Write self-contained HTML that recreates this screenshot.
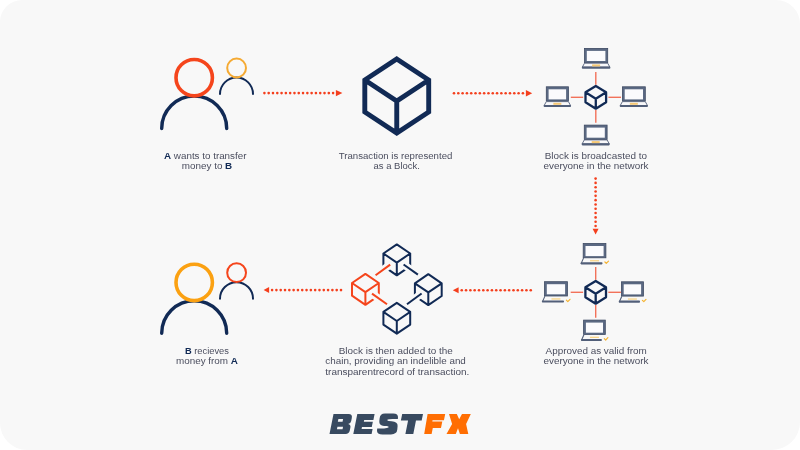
<!DOCTYPE html>
<html><head><meta charset="utf-8">
<style>
html,body{margin:0;padding:0;width:800px;height:450px;overflow:hidden;background:#ffffff;}
svg{display:block;will-change:transform;}
text{font-family:"Liberation Sans",sans-serif;}
</style></head>
<body>
<svg width="800" height="450" viewBox="0 0 800 450">
<path d="M22 0 L776 0 A24 24 0 0 1 800 24 L800 422 A28 28 0 0 1 772 450 L27 450 A27 27 0 0 1 0 423 L0 22 A22 22 0 0 1 22 0 Z" fill="#f8f8f8"/>
<path d="M161.7 128.50 A32.5 32.5 0 0 1 226.7 128.50" fill="none" stroke="#112a55" stroke-width="3.4" stroke-linecap="round"/><circle cx="194.2" cy="77.70" r="18.2" fill="none" stroke="#f5451c" stroke-width="3.6"/><path d="M220 94.00 A16.5 16.5 0 0 1 253 94.00" fill="none" stroke="#112a55" stroke-width="2" stroke-linecap="round"/><circle cx="236.6" cy="68.00" r="9.4" fill="none" stroke="#f5aa33" stroke-width="2"/>
<path d="M161.7 333.20 A32.5 32.5 0 0 1 226.7 333.20" fill="none" stroke="#112a55" stroke-width="3.4" stroke-linecap="round"/><circle cx="194.2" cy="282.40" r="18.2" fill="none" stroke="#fba112" stroke-width="3.6"/><path d="M220 298.70 A16.5 16.5 0 0 1 253 298.70" fill="none" stroke="#112a55" stroke-width="2" stroke-linecap="round"/><circle cx="236.6" cy="272.70" r="9.4" fill="none" stroke="#f5451c" stroke-width="2"/>
<g fill="#f43f1d"><circle cx="264.40" cy="93.10" r="1.3"/><circle cx="268.69" cy="93.10" r="1.3"/><circle cx="272.99" cy="93.10" r="1.3"/><circle cx="277.28" cy="93.10" r="1.3"/><circle cx="281.57" cy="93.10" r="1.3"/><circle cx="285.87" cy="93.10" r="1.3"/><circle cx="290.16" cy="93.10" r="1.3"/><circle cx="294.46" cy="93.10" r="1.3"/><circle cx="298.75" cy="93.10" r="1.3"/><circle cx="303.04" cy="93.10" r="1.3"/><circle cx="307.34" cy="93.10" r="1.3"/><circle cx="311.63" cy="93.10" r="1.3"/><circle cx="315.93" cy="93.10" r="1.3"/><circle cx="320.22" cy="93.10" r="1.3"/><circle cx="324.51" cy="93.10" r="1.3"/><circle cx="328.81" cy="93.10" r="1.3"/><circle cx="333.10" cy="93.10" r="1.3"/></g>
<path d="M335.9 89.9 L342.4 93.1 L335.9 96.3 Z" fill="#f43f1d"/>
<g fill="#f43f1d"><circle cx="454.00" cy="93.20" r="1.3"/><circle cx="458.31" cy="93.20" r="1.3"/><circle cx="462.61" cy="93.20" r="1.3"/><circle cx="466.92" cy="93.20" r="1.3"/><circle cx="471.23" cy="93.20" r="1.3"/><circle cx="475.53" cy="93.20" r="1.3"/><circle cx="479.84" cy="93.20" r="1.3"/><circle cx="484.14" cy="93.20" r="1.3"/><circle cx="488.45" cy="93.20" r="1.3"/><circle cx="492.76" cy="93.20" r="1.3"/><circle cx="497.06" cy="93.20" r="1.3"/><circle cx="501.37" cy="93.20" r="1.3"/><circle cx="505.67" cy="93.20" r="1.3"/><circle cx="509.98" cy="93.20" r="1.3"/><circle cx="514.29" cy="93.20" r="1.3"/><circle cx="518.59" cy="93.20" r="1.3"/><circle cx="522.90" cy="93.20" r="1.3"/></g>
<path d="M525.9 90.0 L532.2 93.2 L525.9 96.4 Z" fill="#f43f1d"/>
<g fill="#f43f1d"><circle cx="595.60" cy="178.60" r="1.3"/><circle cx="595.60" cy="182.91" r="1.3"/><circle cx="595.60" cy="187.22" r="1.3"/><circle cx="595.60" cy="191.53" r="1.3"/><circle cx="595.60" cy="195.84" r="1.3"/><circle cx="595.60" cy="200.15" r="1.3"/><circle cx="595.60" cy="204.45" r="1.3"/><circle cx="595.60" cy="208.76" r="1.3"/><circle cx="595.60" cy="213.07" r="1.3"/><circle cx="595.60" cy="217.38" r="1.3"/><circle cx="595.60" cy="221.69" r="1.3"/><circle cx="595.60" cy="226.00" r="1.3"/></g>
<path d="M592.6 228.7 L598.6 228.7 L595.6 234.6 Z" fill="#f43f1d"/>
<g fill="#f43f1d"><circle cx="272.10" cy="290.10" r="1.3"/><circle cx="276.41" cy="290.10" r="1.3"/><circle cx="280.71" cy="290.10" r="1.3"/><circle cx="285.02" cy="290.10" r="1.3"/><circle cx="289.33" cy="290.10" r="1.3"/><circle cx="293.63" cy="290.10" r="1.3"/><circle cx="297.94" cy="290.10" r="1.3"/><circle cx="302.24" cy="290.10" r="1.3"/><circle cx="306.55" cy="290.10" r="1.3"/><circle cx="310.86" cy="290.10" r="1.3"/><circle cx="315.16" cy="290.10" r="1.3"/><circle cx="319.47" cy="290.10" r="1.3"/><circle cx="323.77" cy="290.10" r="1.3"/><circle cx="328.08" cy="290.10" r="1.3"/><circle cx="332.39" cy="290.10" r="1.3"/><circle cx="336.69" cy="290.10" r="1.3"/><circle cx="341.00" cy="290.10" r="1.3"/></g>
<path d="M269.1 287.1 L263.6 290.1 L269.1 293.1 Z" fill="#f43f1d"/>
<g fill="#f43f1d"><circle cx="461.75" cy="290.20" r="1.3"/><circle cx="466.06" cy="290.20" r="1.3"/><circle cx="470.38" cy="290.20" r="1.3"/><circle cx="474.69" cy="290.20" r="1.3"/><circle cx="479.00" cy="290.20" r="1.3"/><circle cx="483.31" cy="290.20" r="1.3"/><circle cx="487.62" cy="290.20" r="1.3"/><circle cx="491.94" cy="290.20" r="1.3"/><circle cx="496.25" cy="290.20" r="1.3"/><circle cx="500.56" cy="290.20" r="1.3"/><circle cx="504.88" cy="290.20" r="1.3"/><circle cx="509.19" cy="290.20" r="1.3"/><circle cx="513.50" cy="290.20" r="1.3"/><circle cx="517.81" cy="290.20" r="1.3"/><circle cx="522.12" cy="290.20" r="1.3"/><circle cx="526.44" cy="290.20" r="1.3"/><circle cx="530.75" cy="290.20" r="1.3"/></g>
<path d="M458.6 287.2 L452.8 290.2 L458.6 293.2 Z" fill="#f43f1d"/>
<path d="M396.75 59.00 L428.70 80.00 L428.70 112.00 L396.75 133.00 L364.80 112.00 L364.80 80.00 Z M364.80 80.00 L396.75 101.00 L428.70 80.00 M396.75 101.00 L396.75 133.00" fill="none" stroke="#112a55" stroke-width="4.9" stroke-linejoin="miter"/>
<g stroke="#f2725a" stroke-width="1.4"><line x1="595.8" y1="72.1" x2="595.8" y2="84.7"/><line x1="595.8" y1="110.1" x2="595.8" y2="122.8"/><line x1="570.8" y1="97.3" x2="583.1999999999999" y2="97.3"/><line x1="608.4" y1="97.3" x2="621.0" y2="97.3"/></g><path d="M595.80 85.90 L606.10 92.30 L606.10 102.30 L595.80 108.70 L585.50 102.30 L585.50 92.30 Z M585.50 92.30 L595.80 98.70 L606.10 92.30 M595.80 98.70 L595.80 108.70" fill="none" stroke="#112a55" stroke-width="2.3" stroke-linejoin="round" stroke-linecap="round"/><g transform="translate(584.10,48.00)"><rect x="0.4" y="0.4" width="23.20" height="14.3" fill="#5b6983" stroke="#3e4a63" stroke-width="0.8"/><rect x="2.7" y="2.9" width="18.60" height="10.1" fill="#fbfbfd"/><path d="M0.4 15.2 L23.60 15.2 L25.80 19.2 L-1.8 19.2 Z" fill="#f8f8fa" stroke="#525f79" stroke-width="0.9" stroke-linejoin="round"/><rect x="-2.2" y="18.6" width="28.40" height="2.1" rx="0.8" fill="#525f79"/><rect x="8.00" y="16.4" width="8" height="2.0" fill="#f6c874"/></g><g transform="translate(545.90,86.40)"><rect x="0.4" y="0.4" width="22.10" height="14.3" fill="#5b6983" stroke="#3e4a63" stroke-width="0.8"/><rect x="2.7" y="2.9" width="17.50" height="10.1" fill="#fbfbfd"/><path d="M0.4 15.2 L22.50 15.2 L24.70 19.2 L-1.8 19.2 Z" fill="#f8f8fa" stroke="#525f79" stroke-width="0.9" stroke-linejoin="round"/><rect x="-2.2" y="18.6" width="27.30" height="2.1" rx="0.8" fill="#525f79"/><rect x="7.45" y="16.4" width="8" height="2.0" fill="#f6c874"/></g><g transform="translate(622.00,86.40)"><rect x="0.4" y="0.4" width="22.90" height="14.3" fill="#5b6983" stroke="#3e4a63" stroke-width="0.8"/><rect x="2.7" y="2.9" width="18.30" height="10.1" fill="#fbfbfd"/><path d="M0.4 15.2 L23.30 15.2 L25.50 19.2 L-1.8 19.2 Z" fill="#f8f8fa" stroke="#525f79" stroke-width="0.9" stroke-linejoin="round"/><rect x="-2.2" y="18.6" width="28.10" height="2.1" rx="0.8" fill="#525f79"/><rect x="7.85" y="16.4" width="8" height="2.0" fill="#f6c874"/></g><g transform="translate(583.90,124.70)"><rect x="0.4" y="0.4" width="22.80" height="14.3" fill="#5b6983" stroke="#3e4a63" stroke-width="0.8"/><rect x="2.7" y="2.9" width="18.20" height="10.1" fill="#fbfbfd"/><path d="M0.4 15.2 L23.20 15.2 L25.40 19.2 L-1.8 19.2 Z" fill="#f8f8fa" stroke="#525f79" stroke-width="0.9" stroke-linejoin="round"/><rect x="-2.2" y="18.6" width="28.00" height="2.1" rx="0.8" fill="#525f79"/><rect x="7.80" y="16.4" width="8" height="2.0" fill="#f6c874"/></g>
<g stroke="#f2725a" stroke-width="1.4"><line x1="595.7" y1="267.1" x2="595.7" y2="279.7"/><line x1="595.7" y1="305.1" x2="595.7" y2="317.8"/><line x1="570.7" y1="292.3" x2="583.1" y2="292.3"/><line x1="608.3000000000001" y1="292.3" x2="620.9000000000001" y2="292.3"/></g><path d="M595.70 280.90 L606.00 287.30 L606.00 297.30 L595.70 303.70 L585.40 297.30 L585.40 287.30 Z M585.40 287.30 L595.70 293.70 L606.00 287.30 M595.70 293.70 L595.70 303.70" fill="none" stroke="#112a55" stroke-width="2.3" stroke-linejoin="round" stroke-linecap="round"/><g transform="translate(582.80,243.10)"><rect x="0.4" y="0.4" width="22.70" height="14.3" fill="#5b6983" stroke="#3e4a63" stroke-width="0.8"/><rect x="2.7" y="2.9" width="18.10" height="10.1" fill="#fbfbfd"/><path d="M0.6 15.3 L-1.6 20.3" fill="none" stroke="#525f79" stroke-width="1.1" stroke-linecap="round"/><rect x="-2.2" y="19.2" width="21.90" height="2.1" rx="0.8" fill="#525f79"/><rect x="7.25" y="17.0" width="9" height="1.3" fill="#f8d488"/><path d="M22.10 18.9 L23.50 20.3 L25.70 18.0" fill="none" stroke="#f5b434" stroke-width="1.2" stroke-linecap="round" stroke-linejoin="round"/></g><g transform="translate(544.10,281.30)"><rect x="0.4" y="0.4" width="22.90" height="14.3" fill="#5b6983" stroke="#3e4a63" stroke-width="0.8"/><rect x="2.7" y="2.9" width="18.30" height="10.1" fill="#fbfbfd"/><path d="M0.6 15.3 L-1.6 20.3" fill="none" stroke="#525f79" stroke-width="1.1" stroke-linecap="round"/><rect x="-2.2" y="19.2" width="22.10" height="2.1" rx="0.8" fill="#525f79"/><rect x="7.35" y="17.0" width="9" height="1.3" fill="#f8d488"/><path d="M22.30 18.9 L23.70 20.3 L25.90 18.0" fill="none" stroke="#f5b434" stroke-width="1.2" stroke-linecap="round" stroke-linejoin="round"/></g><g transform="translate(621.00,281.40)"><rect x="0.4" y="0.4" width="22.00" height="14.3" fill="#5b6983" stroke="#3e4a63" stroke-width="0.8"/><rect x="2.7" y="2.9" width="17.40" height="10.1" fill="#fbfbfd"/><path d="M0.6 15.3 L-1.6 20.3" fill="none" stroke="#525f79" stroke-width="1.1" stroke-linecap="round"/><rect x="-2.2" y="19.2" width="21.20" height="2.1" rx="0.8" fill="#525f79"/><rect x="6.90" y="17.0" width="9" height="1.3" fill="#f8d488"/><path d="M21.40 18.9 L22.80 20.3 L25.00 18.0" fill="none" stroke="#f5b434" stroke-width="1.2" stroke-linecap="round" stroke-linejoin="round"/></g><g transform="translate(583.20,319.70)"><rect x="0.4" y="0.4" width="21.70" height="14.3" fill="#5b6983" stroke="#3e4a63" stroke-width="0.8"/><rect x="2.7" y="2.9" width="17.10" height="10.1" fill="#fbfbfd"/><path d="M0.6 15.3 L-1.6 20.3" fill="none" stroke="#525f79" stroke-width="1.1" stroke-linecap="round"/><rect x="-2.2" y="19.2" width="20.90" height="2.1" rx="0.8" fill="#525f79"/><rect x="6.75" y="17.0" width="9" height="1.3" fill="#f8d488"/><path d="M21.10 18.9 L22.50 20.3 L24.70 18.0" fill="none" stroke="#f5b434" stroke-width="1.2" stroke-linecap="round" stroke-linejoin="round"/></g>
<path d="M396.80 244.40 L410.20 253.50 L410.20 266.20 L396.80 275.30 L383.40 266.20 L383.40 253.50 Z M383.40 253.50 L396.80 262.60 L410.20 253.50 M396.80 262.60 L396.80 275.30" fill="none" stroke="#112a55" stroke-width="2.0" stroke-linejoin="round" stroke-linecap="round"/>
<path d="M365.40 273.90 L378.80 283.00 L378.80 295.70 L365.40 304.80 L352.00 295.70 L352.00 283.00 Z M352.00 283.00 L365.40 292.10 L378.80 283.00 M365.40 292.10 L365.40 304.80" fill="none" stroke="#f5451c" stroke-width="2.0" stroke-linejoin="round" stroke-linecap="round"/>
<path d="M428.30 274.20 L441.70 283.30 L441.70 296.00 L428.30 305.10 L414.90 296.00 L414.90 283.30 Z M414.90 283.30 L428.30 292.40 L441.70 283.30 M428.30 292.40 L428.30 305.10" fill="none" stroke="#112a55" stroke-width="2.0" stroke-linejoin="round" stroke-linecap="round"/>
<path d="M396.80 302.80 L410.20 311.90 L410.20 324.60 L396.80 333.70 L383.40 324.60 L383.40 311.90 Z M383.40 311.90 L396.80 321.00 L410.20 311.90 M396.80 321.00 L396.80 333.70" fill="none" stroke="#112a55" stroke-width="2.0" stroke-linejoin="round" stroke-linecap="round"/>
<line x1="375.6" y1="275.2" x2="390.2" y2="264.6" stroke="#f8f8f8" stroke-width="7.6"/>
<line x1="372.0" y1="293.6" x2="387.0" y2="304.3" stroke="#f8f8f8" stroke-width="7.6"/>
<line x1="403.6" y1="264.5" x2="417.9" y2="274.6" stroke="#f8f8f8" stroke-width="7.6"/>
<line x1="421.6" y1="293.5" x2="407.0" y2="304.2" stroke="#f8f8f8" stroke-width="7.6"/>
<line x1="375.6" y1="275.2" x2="390.2" y2="264.6" stroke="#f5451c" stroke-width="2"/>
<line x1="372.0" y1="293.6" x2="387.0" y2="304.3" stroke="#f5451c" stroke-width="2"/>
<line x1="403.6" y1="264.5" x2="417.9" y2="274.6" stroke="#112a55" stroke-width="2"/>
<line x1="421.6" y1="293.5" x2="407.0" y2="304.2" stroke="#112a55" stroke-width="2"/>
<g font-size="9.2" fill="#4a4d5e" text-anchor="middle"><text x="205.25" y="158.60" textLength="82.40" lengthAdjust="spacingAndGlyphs"><tspan font-weight="bold" fill="#112a55">A</tspan> wants to transfer</text><text x="207.05" y="168.60" textLength="50.40" lengthAdjust="spacingAndGlyphs">money to <tspan font-weight="bold" fill="#112a55">B</tspan></text><text x="395.55" y="158.70" textLength="113.60" lengthAdjust="spacingAndGlyphs">Transaction is represented</text><text x="396.70" y="168.80" textLength="46.30" lengthAdjust="spacingAndGlyphs">as a Block.</text><text x="595.85" y="158.50" textLength="102.40" lengthAdjust="spacingAndGlyphs">Block is broadcasted to</text><text x="595.95" y="168.60" textLength="105.00" lengthAdjust="spacingAndGlyphs">everyone in the network</text><text x="206.95" y="353.70" textLength="44.00" lengthAdjust="spacingAndGlyphs"><tspan font-weight="bold" fill="#112a55">B</tspan> recieves</text><text x="206.95" y="363.80" textLength="62.00" lengthAdjust="spacingAndGlyphs">money from <tspan font-weight="bold" fill="#112a55">A</tspan></text><text x="395.70" y="354.40" textLength="113.90" lengthAdjust="spacingAndGlyphs">Block is then added to the</text><text x="395.60" y="364.40" textLength="140.50" lengthAdjust="spacingAndGlyphs">chain, providing an indelible and</text><text x="397.30" y="374.50" textLength="143.90" lengthAdjust="spacingAndGlyphs">transparentrecord of transaction.</text><text x="596.15" y="354.00" textLength="101.20" lengthAdjust="spacingAndGlyphs">Approved as valid from</text><text x="595.95" y="363.50" textLength="105.00" lengthAdjust="spacingAndGlyphs">everyone in the network</text></g>
<g transform="matrix(1 0 -0.2 1 86.80 0)"><path fill-rule="evenodd" fill="#384a60" d="M329.5 414 L344.6 414 Q348.6 414 348.6 418 L348.6 421 Q348.6 423.6 346.2 424.1 Q349.1 424.6 349.1 427.6 L349.1 430.6 Q349.1 434 345.6 434 L329.5 434 Z M335.4 419 L340.1 419 L340.1 421.8 L335.4 421.8 Z M336.0 426.8 L341.6 426.8 L341.6 429.3 L336.0 429.3 Z"/><path fill="#384a60" d="M353.3 414 L370.6 414 L370.6 420 L361.4 420 L361.4 421.8 L370.4 421.8 L370.4 427.1 L360.6 427.1 L360.6 429 L371.6 429 L371.6 434 L353.3 434 Z"/><path fill="#384a60" d="M398.2 414 L419.0 414 L419.0 420.6 L413.3 420.6 L413.3 434 L405.4 434 L405.4 420.6 L398.2 420.6 Z"/><path fill="#ff6e02" d="M423.6 414 L441.2 414 L441.2 420.3 L429.8 420.3 L429.8 421.5 L439.8 421.5 L439.8 428 L431.6 428 L431.6 434 L424.2 434 Z"/></g><path fill="#384a60" d="M385 413.6 L393.2 413.6 Q398.4 413.6 398 418 L397.8 419.1 L392.4 419.1 Q388.6 419.1 387.6 419.6 Q386.6 420.6 388.6 421.1 L391.6 421.2 Q397.9 421.6 397.6 426 L397.3 429.6 Q396.9 434.4 391 434.4 L382.6 434.4 Q376.8 434.4 377.0 430.4 L377.2 428.4 L383.2 428.4 Q387.4 428.5 388.4 427.6 Q389.2 426.2 386.6 426.0 L384.0 425.9 Q379.0 425.6 379.3 421.2 L379.6 418.6 Q380 413.6 385 413.6 Z"/><path fill="#ff6e02" d="M449 414 L456.8 414 L459.2 419.3 L462 414 L470.8 414 L466.1 424 L468.3 434 L459.9 434 L458 428.2 L455.8 434 L446.5 434 L452.1 424 Z"/>
</svg>
</body></html>
